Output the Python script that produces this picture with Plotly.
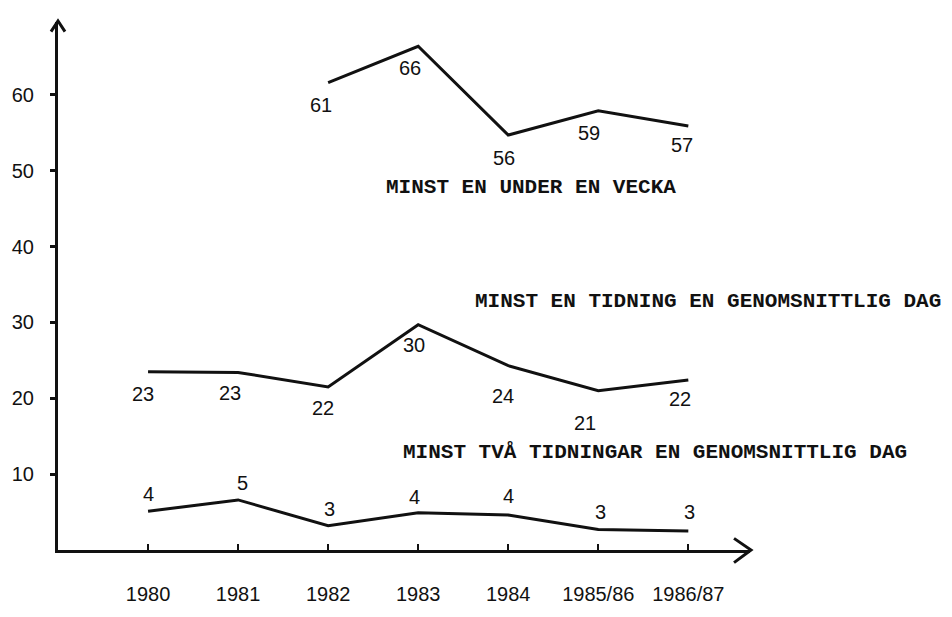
import plotly.graph_objects as go

# ---- data ----
years = ["1980", "1981", "1982", "1983", "1984", "1985/86", "1986/87"]

week_years = years[2:]
week_labels = [61, 66, 56, 59, 57]
week_drawn = [61.6, 66.4, 54.7, 57.9, 55.9]

day1_labels = [23, 23, 22, 30, 24, 21, 22]
day1_drawn = [23.5, 23.4, 21.5, 29.7, 24.3, 21.0, 22.4]

day2_labels = [4, 5, 3, 4, 4, 3, 3]
day2_drawn = [5.1, 6.6, 3.2, 4.9, 4.6, 2.7, 2.5]

y_ticks = [10, 20, 30, 40, 50, 60]

series_names = [
    "MINST EN UNDER EN VECKA",
    "MINST EN TIDNING EN GENOMSNITTLIG DAG",
    "MINST TVÅ TIDNINGAR EN GENOMSNITTLIG DAG",
]

# ---- style ----
INK = "#111111"
NUM_FONT = dict(family="Liberation Sans, Arial, sans-serif", size=20, color=INK)
TYPE_FONT = dict(family="Liberation Mono, Courier New, monospace", size=21,
                 color=INK, weight="bold")

week_off = [(-7, 22), (-8, 22), (-4, 23), (-9, 22), (-6, 19)]
day1_off = [(-5, 22), (-8, 21), (-5, 21), (-4, 20), (-5, 30), (-13, 32), (-8, 19)]
day2_off = [(0, -17), (4, -17), (1, -17), (-4, -16), (0, -19), (2, -18), (1, -19)]

fig = go.Figure()
for xs, ys in [(week_years, week_drawn), (years, day1_drawn), (years, day2_drawn)]:
    fig.add_trace(go.Scatter(x=xs, y=ys, mode="lines",
                             line=dict(color=INK, width=3), showlegend=False,
                             hoverinfo="skip"))

annotations = []
for xs, ys, labs, offs in [(week_years, week_drawn, week_labels, week_off),
                           (years, day1_drawn, day1_labels, day1_off),
                           (years, day2_drawn, day2_labels, day2_off)]:
    for x, y, lab, (dx, dy) in zip(xs, ys, labs, offs):
        annotations.append(dict(x=years.index(x), y=y, text=str(lab),
                                showarrow=False, xshift=dx, yshift=-dy,
                                font=NUM_FONT, xanchor="center",
                                yanchor="middle"))

for name, (lx, ly) in zip(series_names, [(4.257, 47.8), (6.22, 32.7), (5.63, 12.9)]):
    annotations.append(dict(x=lx, y=ly, text=name, showarrow=False,
                            font=TYPE_FONT, xanchor="center", yanchor="middle"))

# plot area: x 57..750 px, y 22..567 px
W, H = 952, 617
L, R, T, B = 57, 750, 22, 567
pw, ph = R - L, B - T


def px(xp):
    return (xp - L) / pw


def py(yp):
    return (B - yp) / ph


shapes = [
    # y-axis arrowhead
    dict(type="path", xref="paper", yref="paper",
         path=f"M {px(50)},{py(32)} L {px(57)},{py(21)} L {px(64)},{py(32)}",
         line=dict(color=INK, width=3)),
    # x-axis arrowhead
    dict(type="path", xref="paper", yref="paper",
         path=f"M {px(734)},{py(555)} L {px(751)},{py(567)} L {px(734)},{py(580)}",
         line=dict(color=INK, width=3)),
]

fig.update_layout(
    width=W, height=H,
    margin=dict(l=L, r=W - R, t=T, b=H - B),
    paper_bgcolor="white", plot_bgcolor="white",
    showlegend=False,
    annotations=annotations,
    shapes=shapes,
    xaxis=dict(type="category", categoryorder="array", categoryarray=years,
               range=[-1.0, 6.685], showline=True, linewidth=3, linecolor=INK,
               showgrid=False, zeroline=False, ticks="inside", ticklen=6,
               tickwidth=2, tickcolor=INK, tickfont=NUM_FONT,
               ticklabelstandoff=24, fixedrange=True),
    yaxis=dict(range=[0, 69.6], tickvals=y_ticks, showline=True, linewidth=3,
               linecolor=INK, showgrid=False, zeroline=False, ticks="outside",
               ticklen=5, tickwidth=3, tickcolor=INK, tickfont=NUM_FONT,
               ticklabelstandoff=12, fixedrange=True),
)

fig.write_html(
    "out.html", config={"displayModeBar": False},
    post_script=(
        "var h=document.documentElement,b=document.body;"
        "h.style.margin='0';h.style.padding='0';h.style.overflow='hidden';"
        "h.style.height='617px';"
        "b.style.margin='0';b.style.padding='0';b.style.overflow='hidden';"
        "b.style.height='617px';"
    ),
)
